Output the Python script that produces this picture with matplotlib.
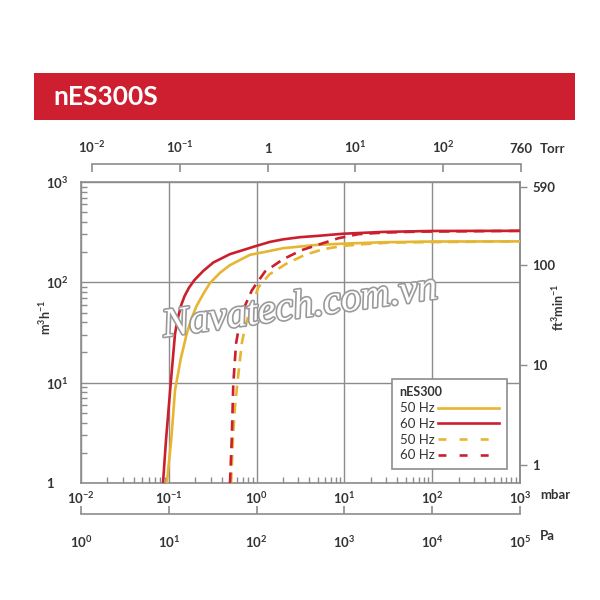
import math
import matplotlib
matplotlib.use('Agg')
import matplotlib.pyplot as plt
import matplotlib.patheffects as pe
from matplotlib.lines import Line2D
from matplotlib.patches import Rectangle
from matplotlib.ticker import FixedLocator, NullLocator, LogLocator

plt.rcParams['font.family'] = ['Lato', 'DejaVu Sans']
plt.rcParams['mathtext.fontset'] = 'custom'
plt.rcParams['mathtext.rm'] = 'Lato:bold'
plt.rcParams['mathtext.bf'] = 'Lato:bold'
plt.rcParams['mathtext.it'] = 'Lato:bold'
plt.rcParams['mathtext.default'] = 'bf'

# ---------------- data ----------------
title = 'nES300S'
legend_title = 'nES300'
series_labels = ['50 Hz', '60 Hz', '50 Hz', '60 Hz']

# pressure (mbar) vs pumping speed (m3/h)
p_50_solid = [0.0949, 0.1065, 0.1177, 0.137, 0.160, 0.182, 0.208, 0.25, 0.2945, 0.383, 0.4977, 0.841,
              1.246, 2.01, 4.84, 9.7, 27.7, 98.6, 1000]
s_50_solid = [1.0, 2.67, 8.39, 17.4, 30.7, 44, 58.6, 78, 98.4, 124.5, 148.5, 188,
              201, 219, 236, 243, 251, 255, 256]

p_60_solid = [0.0859, 0.0929, 0.1051, 0.1177, 0.1257, 0.1377, 0.1510, 0.1698, 0.1952, 0.2471, 0.3212,
              0.4977, 1.0, 1.421, 2.0, 3.12, 4.87, 9.64, 27.5, 99.5, 1000]
s_60_solid = [1.0, 2.67, 9.78, 30.7, 42.5, 58.6, 72.8, 88.4, 105, 130, 157.6,
              191, 231, 253, 268, 281.8, 290, 305, 318, 325, 326]

p_50_dash = [0.512, 0.54, 0.5675, 0.603, 0.677, 0.738, 0.841, 1.046, 1.40, 2.20, 3.56, 5.75, 9.71, 16.4,
             33.1, 66.6, 1000]
s_50_dash = [1.0, 3.0, 5.73, 9.78, 24.4, 35.7, 52.2, 89, 120, 154, 188, 214, 231, 240,
             249, 251, 256]

p_60_dash = [0.4977, 0.5206, 0.5428, 0.5828, 0.619, 0.647, 0.738, 0.879, 0.959, 1.246, 2.014, 3.264,
             5.27, 8.52, 14.4, 27.7, 66.6, 1000]
s_60_dash = [1.0, 2.67, 9.78, 24.4, 33.1, 41.6, 58.6, 82.5, 92.5, 128, 170.4, 209.4,
             240, 275, 302, 313, 320, 326]

mbar_ticks = [1e-2, 1e-1, 1e0, 1e1, 1e2, 1e3]
mbar_labels = ['$10^{-2}$', '$10^{-1}$', '$10^{0}$', '$10^{1}$', '$10^{2}$', '$10^{3}$']
speed_ticks = [1, 10, 100, 1000]
speed_labels = ['1', '$10^{1}$', '$10^{2}$', '$10^{3}$']
cfm_ticks = [1, 10, 100, 590]
cfm_labels = ['1', '10', '100', '590']
torr_ticks = [1e-2, 1e-1, 1, 10, 100, 760]
torr_labels = ['$10^{-2}$', '$10^{-1}$', '1', '$10^{1}$', '$10^{2}$', '760']
pa_ticks = [1e0, 1e1, 1e2, 1e3, 1e4, 1e5]
pa_labels = ['$10^{0}$', '$10^{1}$', '$10^{2}$', '$10^{3}$', '$10^{4}$', '$10^{5}$']

# right-axis scale as drawn in the chart (ft3/min per m3/h)
M3H_TO_CFM = 0.667
MBAR_PER_TORR = 1.33322

# ---------------- style ----------------
RED = '#CB1F2E'
GOLD = '#E6B532'
GRAY = '#8C8C8C'
TXT = '#333333'
W, H = 600, 600
FS = 9.5

fig = plt.figure(figsize=(6, 6), dpi=100)

# banner
fig.add_artist(Rectangle((34 / W, 1 - 120 / H), (575 - 34) / W, (120 - 72.5) / H,
                         transform=fig.transFigure, facecolor='#CD1F2F', edgecolor='none'))
fig.text(53 / W, 1 - 97 / H, title, color='white', fontsize=19, fontweight='bold',
         va='center', ha='left')

# main axes
L, R, T, B = 81, 520, 182, 483
ax = fig.add_axes([L / W, 1 - B / H, (R - L) / W, (B - T) / H])
ax.set_xscale('log')
ax.set_yscale('log')
ax.set_xlim(1e-2, 1e3)
ax.set_ylim(1, 1e3)

lw = 1.9
ax.plot(p_50_solid, s_50_solid, color=GOLD, lw=lw, zorder=3, solid_joinstyle='round')
ax.plot(p_60_solid, s_60_solid, color=RED, lw=lw, zorder=3, solid_joinstyle='round')
ax.plot(p_50_dash, s_50_dash, color=GOLD, lw=lw, dashes=(4, 2.6), zorder=3)
ax.plot(p_60_dash, s_60_dash, color=RED, lw=lw, dashes=(4, 2.6), zorder=3)

for sp in ax.spines.values():
    sp.set_color(GRAY)
    sp.set_linewidth(1.2)

ax.xaxis.set_major_locator(FixedLocator(mbar_ticks))
ax.set_xticklabels(mbar_labels)
ax.xaxis.set_minor_locator(LogLocator(base=10, subs=range(2, 10)))
ax.yaxis.set_major_locator(FixedLocator(speed_ticks))
ax.set_yticklabels(speed_labels)
ax.yaxis.set_minor_locator(LogLocator(base=10, subs=range(2, 10)))
ax.grid(which='major', color=GRAY, lw=1.0)
ax.tick_params(axis='x', which='major', length=0, labelsize=FS, labelcolor=TXT, pad=5)
ax.tick_params(axis='y', which='major', length=0, labelsize=FS, labelcolor=TXT, pad=25)
for t in ax.get_yticklabels() + ax.get_xticklabels():
    t.set_fontweight('bold')
for t in ax.get_yticklabels():
    t.set_ha('left')
ax.tick_params(which='minor', direction='in', length=4, color=GRAY, width=1)

# right axis in cfm
ax2 = ax.secondary_yaxis('right', functions=(lambda m: m * M3H_TO_CFM, lambda c: c / M3H_TO_CFM))
ax2.yaxis.set_major_locator(FixedLocator(cfm_ticks))
ax2.yaxis.set_minor_locator(NullLocator())
ax2.set_yticklabels(cfm_labels)
ax2.tick_params(axis='y', direction='out', length=5, color=GRAY, width=1,
                labelsize=FS, labelcolor=TXT, pad=4)
for t in ax2.get_yticklabels():
    t.set_fontweight('bold')
ax2.spines['right'].set_color(GRAY)
ax2.spines['right'].set_linewidth(1.2)

# axis unit labels
fig.text(45 / W, 1 - 318 / H, 'm$^{3}$h$^{-1}$', rotation=90, ha='center', va='center',
         fontsize=9, fontweight='bold', color=TXT)
fig.text(558 / W, 1 - 307 / H, 'ft$^{3}$min$^{-1}$', rotation=90, ha='center', va='center',
         fontsize=9, fontweight='bold', color=TXT)
fig.text(540 / W, 1 - 495 / H, 'mbar', ha='left', va='center', fontsize=FS, fontweight='bold', color=TXT)

# Torr axis (top)
torr_lo = 1e-2 / MBAR_PER_TORR
torr_hi = 760
torr_width = (R - L) * (math.log10(torr_hi / torr_lo) / 5.0)
axT = fig.add_axes([L / W, 1 - 164.5 / H, torr_width / W, 0.0001])
axT.set_xscale('log')
axT.set_xlim(torr_lo, torr_hi)
for k in ['left', 'right', 'bottom']:
    axT.spines[k].set_visible(False)
axT.spines['top'].set_color(GRAY)
axT.spines['top'].set_linewidth(1.2)
axT.spines['top'].set_bounds(1e-2, 760)
axT.patch.set_visible(False)
axT.yaxis.set_visible(False)
axT.xaxis.set_major_locator(FixedLocator(torr_ticks))
axT.xaxis.set_minor_locator(NullLocator())
axT.set_xticklabels(torr_labels)
axT.tick_params(axis='x', which='major', top=True, bottom=False, labeltop=True, labelbottom=False,
                direction='in', length=6, color=GRAY, width=1.2, labelsize=FS, labelcolor=TXT, pad=7)
for t in axT.get_xticklabels():
    t.set_fontweight('bold')
fig.text(540 / W, 1 - 149 / H, 'Torr', ha='left', va='center', fontsize=FS, fontweight='bold', color=TXT)

# Pa axis (bottom)
axP = fig.add_axes([L / W, 1 - 513.5 / H, (R - L) / W, 0.0001])
axP.set_xscale('log')
axP.set_xlim(1, 1e5)
for k in ['left', 'right', 'top']:
    axP.spines[k].set_visible(False)
axP.spines['bottom'].set_color(GRAY)
axP.spines['bottom'].set_linewidth(1.2)
axP.patch.set_visible(False)
axP.yaxis.set_visible(False)
axP.xaxis.set_major_locator(FixedLocator(pa_ticks))
axP.xaxis.set_minor_locator(NullLocator())
axP.set_xticklabels(pa_labels)
axP.tick_params(axis='x', which='major', bottom=True, top=False, direction='in', length=6,
                color=GRAY, width=1.2, labelsize=FS, labelcolor=TXT, pad=15)
fig.text(540 / W, 1 - 536 / H, 'Pa', ha='left', va='center', fontsize=FS, fontweight='bold', color=TXT)

# legend
handles = [Line2D([], [], color=GOLD, lw=lw),
           Line2D([], [], color=RED, lw=lw),
           Line2D([], [], color=GOLD, lw=lw, dashes=(3, 5)),
           Line2D([], [], color=RED, lw=lw, dashes=(3, 5))]
leg = ax.legend(handles, series_labels, title=legend_title, loc='lower right',
                bbox_to_anchor=(0.970, 0.046), markerfirst=False, alignment='left',
                frameon=True, fancybox=False, edgecolor=GRAY, framealpha=1,
                handlelength=4.6, handletextpad=0.3, fontsize=9.5, labelspacing=0.28,
                borderpad=0.6, borderaxespad=0,
                title_fontproperties={'weight': 'bold', 'size': 9},
                labelcolor=TXT)
leg.get_frame().set_linewidth(1.2)
leg.get_title().set_color(TXT)

# watermark
fig.text(300 / W, 1 - 308 / H, 'Navatech.com.vn', fontsize=29, family='Liberation Serif',
         style='italic', color='white', rotation=8, ha='center', va='center', zorder=10,
         path_effects=[pe.withStroke(linewidth=2.4, foreground='#9a9a9a')])

fig.savefig('out.png', dpi=100)
